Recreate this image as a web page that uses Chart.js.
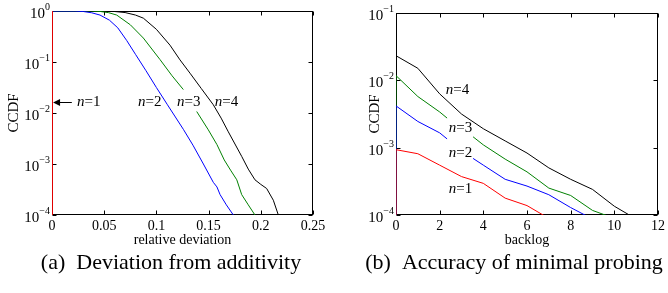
<!DOCTYPE html>
<html><head><meta charset="utf-8">
<script src="https://cdn.jsdelivr.net/npm/chart.js@4"></script>
<style>
html,body{margin:0;padding:0;background:#fff;width:668px;height:293px;overflow:hidden;}
.wrap{position:absolute;top:0;width:334px;height:293px;}
</style></head><body>
<div class="wrap" style="left:0"><canvas id="cA" width="334" height="293"></canvas></div>
<div class="wrap" style="left:334px"><canvas id="cB" width="334" height="293"></canvas></div>
<script>
// ---------- Chart (a): Deviation from additivity ----------
const devX_n1 = [0, 0];
const devY_n1 = [1, 0.0001];
const devX_n2 = [0, 0.022, 0.03, 0.038, 0.046, 0.055, 0.063, 0.0716, 0.08, 0.09, 0.1, 0.1106, 0.1258, 0.135, 0.145, 0.1545, 0.158, 0.161, 0.167, 0.1737];
const devY_n2 = [1, 1, 0.977, 0.923, 0.832, 0.661, 0.468, 0.263, 0.141, 0.0676, 0.0316, 0.0145, 0.00479, 0.00234, 0.001, 0.000437, 0.000355, 0.000251, 0.000158, 0.0001];
const devX_n3 = [0, 0.038, 0.046, 0.054, 0.062, 0.075, 0.0875, 0.1034, 0.115, 0.1258, 0.132, 0.1386, 0.1497, 0.158, 0.165, 0.171, 0.177, 0.1817, 0.188, 0.1944];
const devY_n3 = [1, 1, 0.98, 0.93, 0.832, 0.537, 0.295, 0.112, 0.0537, 0.0288, null, 0.0107, 0.00468, 0.0024, 0.0012, 0.000759, 0.00049, 0.000251, 0.000158, 0.0001];
const devX_n4 = [0, 0.05, 0.06, 0.07, 0.08, 0.0875, 0.1, 0.113, 0.1226, 0.1322, 0.143, 0.1545, 0.162, 0.1689, 0.1817, 0.188, 0.1944, 0.2, 0.2056, 0.212, 0.2168];
const devY_n4 = [1, 1, 0.977, 0.933, 0.832, 0.724, 0.437, 0.214, 0.11, 0.0603, 0.0302, 0.0145, 0.00794, 0.00427, 0.00141, 0.000794, 0.00049, 0.000398, 0.000331, 0.000195, 0.0001];
const xTickValsA = [0, 0.05, 0.1, 0.15, 0.2, 0.25];
const xTickLabelsA = ['0', '0.05', '0.1', '0.15', '0.2', '0.25'];
const yDecadesA = [0, -1, -2, -3, -4];

// ---------- Chart (b): Accuracy of minimal probing ----------
const blgX_n1 = [0, 0, 1, 2, 3, 4, 5, 6, 7];
const blgY_n1 = [0.0001, 0.000933, 0.000813, 0.00055, 0.000372, 0.000295, 0.000178, 0.000138, 0.0000891];
const blgX_n2 = [0, 0, 1, 2, 2.34, 3, 3.53, 4, 5, 6, 7, 8, 9];
const blgY_n2 = [0.0001, 0.00417, 0.00245, 0.00166, 0.00135, null, 0.000692, 0.00055, 0.000339, 0.000269, 0.0002, 0.000129, 0.0000871];
const blgX_n3 = [0, 0, 1, 2, 2.34, 3, 3.53, 4, 5, 6, 7, 8, 9, 10];
const blgY_n3 = [0.0001, 0.01175, 0.00575, 0.00339, 0.00275, null, 0.00145, 0.0011, 0.000676, 0.000437, 0.000251, 0.000195, 0.000117, 0.0000891];
const blgX_n4 = [0, 0, 1, 2, 3, 4, 5, 6, 7, 8, 9, 10, 11];
const blgY_n4 = [0.0001, 0.0232, 0.0151, 0.0063, 0.00316, 0.00191, 0.00126, 0.000832, 0.000501, 0.000339, 0.00024, 0.000135, 0.0000871];
const xTickValsB = [0, 2, 4, 6, 8, 10, 12];
const xTickLabelsB = ['0', '2', '4', '6', '8', '10', '12'];
const yDecadesB = [-1, -2, -3, -4];

// series labels: text, anchor x, anchor y (data space)
const labelsA = [
  {t: '1', x: 0.024, y: 0.0167},
  {t: '2', x: 0.0824, y: 0.0167},
  {t: '3', x: 0.1197, y: 0.0167},
  {t: '4', x: 0.156, y: 0.0167}
];
const arrowA = {x1: 0.019, x2: 0.001, y: 0.0167};
const labelsB = [
  {t: '4', x: 2.28, y: 0.00723},
  {t: '3', x: 2.42, y: 0.00196},
  {t: '2', x: 2.42, y: 0.000834},
  {t: '1', x: 2.42, y: 0.00024}
];
const captionA = '(a)  Deviation from additivity';
const captionB = '(b)  Accuracy of minimal probing';

const SERIF = '"Liberation Serif", "Times New Roman", serif';
const pts = (xs, ys) => xs.map((x, i) => ({x: x, y: ys[i]}));

function decoPlugin(decades, xticks, xTitle, ccdfX, labels, arrow, caption, capX) {
  return {
    id: 'deco',
    beforeDatasetsDraw(chart) {
      const ctx = chart.ctx, a = chart.chartArea, xs = chart.scales.x, ys = chart.scales.y;
      ctx.save();
      ctx.strokeStyle = '#000'; ctx.lineWidth = 1;
      const L = Math.round(a.left) + 0.5, R = Math.round(a.right) - 0.5, T = Math.round(a.top) + 0.5, B = Math.round(a.bottom) - 0.5;
      ctx.strokeRect(L, T, R - L, B - T);
      ctx.beginPath();
      xticks.forEach(v => {
        const px = Math.round(xs.getPixelForValue(v)) + 0.5;
        ctx.moveTo(px, B); ctx.lineTo(px, B - 4);
        ctx.moveTo(px, T); ctx.lineTo(px, T + 4);
      });
      decades.forEach(d => {
        const py = Math.round(ys.getPixelForValue(Math.pow(10, d))) + 0.5;
        ctx.moveTo(L, py); ctx.lineTo(L + 4, py);
        ctx.moveTo(R, py); ctx.lineTo(R - 4, py);
      });
      ctx.stroke();
      ctx.restore();
    },
    afterDatasetsDraw(chart) {
      const ctx = chart.ctx, a = chart.chartArea, xs = chart.scales.x, ys = chart.scales.y;
      ctx.save();
      ctx.fillStyle = '#000'; ctx.strokeStyle = '#000'; ctx.lineWidth = 1;
      decades.forEach(d => {
        const py = ys.getPixelForValue(Math.pow(10, d));
        const ex = d < 0 ? '\u2212' + (-d) : String(d);
        ctx.font = '10px ' + SERIF;
        ctx.textAlign = 'right'; ctx.textBaseline = 'alphabetic';
        const ew = ctx.measureText(ex).width;
        const right = a.left - 2;
        ctx.fillText(ex, right, py - 1);
        ctx.font = '15px ' + SERIF;
        ctx.fillText('10', right - ew, py + 7);
      });
      ctx.font = '14px ' + SERIF;
      ctx.textAlign = 'center'; ctx.textBaseline = 'alphabetic';
      ctx.fillText(xTitle, (a.left + a.right) / 2, 244);
      ctx.save();
      ctx.translate(ccdfX, (a.top + a.bottom) / 2);
      ctx.rotate(-Math.PI / 2);
      ctx.font = '15px ' + SERIF;
      ctx.textAlign = 'center'; ctx.textBaseline = 'middle';
      ctx.fillText('CCDF', 0, 0);
      ctx.restore();
      labels.forEach(l => {
        const px = xs.getPixelForValue(l.x), py = ys.getPixelForValue(l.y);
        ctx.textAlign = 'left'; ctx.textBaseline = 'middle';
        ctx.font = 'italic 15px ' + SERIF;
        ctx.fillText('n', px, py);
        const w = ctx.measureText('n').width;
        ctx.font = '15px ' + SERIF;
        ctx.fillText('=' + l.t, px + w, py);
      });
      if (arrow) {
        const x1 = xs.getPixelForValue(arrow.x1), x2 = xs.getPixelForValue(arrow.x2), py = Math.round(ys.getPixelForValue(arrow.y)) + 0.5;
        ctx.beginPath(); ctx.moveTo(x1, py); ctx.lineTo(x2 + 4, py); ctx.stroke();
        ctx.beginPath(); ctx.moveTo(x2, py); ctx.lineTo(x2 + 7, py - 3.5); ctx.lineTo(x2 + 7, py + 3.5); ctx.closePath(); ctx.fill();
      }
      ctx.font = '22px ' + SERIF;
      ctx.textAlign = 'center'; ctx.textBaseline = 'alphabetic';
      ctx.fillText(caption, capX, 269);
      ctx.restore();
    }
  };
}

function makeChart(id, datasets, xmin, xmax, ymin, ymax, xvals, xlabels, yWidth, pad, plugin) {
  return new Chart(document.getElementById(id), {
    type: 'line',
    data: {datasets: datasets},
    options: {
      responsive: false, animation: false,
      layout: {padding: pad},
      plugins: {legend: {display: false}, tooltip: {enabled: false}},
      elements: {point: {radius: 0}, line: {borderWidth: 1, tension: 0}},
      scales: {
        x: {
          type: 'linear', min: xmin, max: xmax,
          grid: {display: false, drawTicks: false}, border: {display: false},
          ticks: {font: {family: SERIF, size: 14}, color: '#000', padding: 3, autoSkip: false, maxRotation: 0,
                  callback: (v, i) => xlabels[i]},
          afterBuildTicks: s => { s.ticks = xvals.map(v => ({value: v})); },
          afterFit: s => { s.height = 78; }
        },
        y: {
          type: 'logarithmic', min: ymin, max: ymax,
          grid: {display: false}, border: {display: false}, ticks: {display: false},
          afterFit: s => { s.width = yWidth; }
        }
      }
    },
    plugins: [plugin]
  });
}

const ds = (xs, ys, c) => ({data: pts(xs, ys), borderColor: c, borderWidth: 1, fill: false, spanGaps: false, pointRadius: 0});

makeChart('cA', [
  ds(devX_n1, devY_n1, '#ff0000'),
  ds(devX_n2, devY_n2, '#0000ff'),
  ds(devX_n3, devY_n3, '#008000'),
  ds(devX_n4, devY_n4, '#000000')
], 0, 0.25, 0.0001, 1, xTickValsA, xTickLabelsA, 52, {top: 11, right: 21, left: 0, bottom: 0},
  decoPlugin(yDecadesA, xTickValsA, 'relative deviation', 14, labelsA, arrowA, captionA, 171));

makeChart('cB', [
  ds(blgX_n1, blgY_n1, '#ff0000'),
  ds(blgX_n2, blgY_n2, '#0000ff'),
  ds(blgX_n3, blgY_n3, '#008000'),
  ds(blgX_n4, blgY_n4, '#000000')
], 0, 12, 0.0001, 0.1, xTickValsB, xTickLabelsB, 62, {top: 13, right: 9, left: 0, bottom: 0},
  decoPlugin(yDecadesB, xTickValsB, 'backlog', 41.5, labelsB, null, captionB, 180));
</script>
</body></html>
